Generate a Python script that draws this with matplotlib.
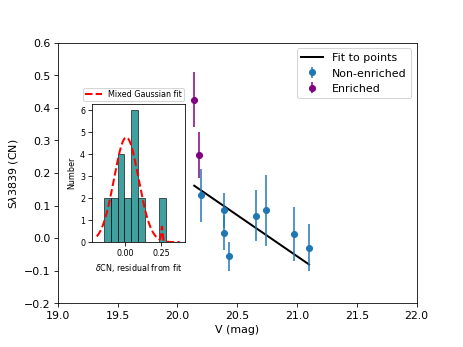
import numpy as np
import matplotlib
matplotlib.use('Agg')
import matplotlib.pyplot as plt

plt.rcParams['font.size'] = 11

# main panel data
v_non = [20.20, 20.39, 20.39, 20.43, 20.66, 20.74, 20.97, 21.10]
cn_non = [0.131, 0.085, 0.017, -0.056, 0.069, 0.085, 0.014, -0.029]
err_non = [0.080, 0.055, 0.055, 0.045, 0.078, 0.110, 0.083, 0.072]

v_enr = [20.14, 20.18]
cn_enr = [0.425, 0.256]
err_enr = [0.085, 0.070]

# linear fit to points
fit_slope = -0.252
fit_intercept = 0.161 + 0.252 * 20.14

# residual histogram
bin_edges = [-0.150, -0.1015, -0.053, -0.0045, 0.044, 0.0925, 0.141, 0.1895, 0.238, 0.2865]
bin_counts = [2, 2, 4, 2, 6, 2, 0, 0, 2]

# mixed gaussian fit parameters (amp, mu, sigma)
gauss_params = [(4.76, 0.008, 0.085), (0.64, 0.255, 0.005)]

fig = plt.figure(figsize=(6.4, 4.8), dpi=72.35)
ax = fig.add_axes([0.125, 0.126, 0.775, 0.750])

all_v = np.array(v_enr + v_non)
xf = np.array([all_v.min(), all_v.max()])
ax.plot(xf, fit_intercept + fit_slope * xf, color='k', lw=2, label='Fit to points')
ax.errorbar(v_non, cn_non, yerr=err_non, fmt='o', color='C0', label='Non-enriched')
ax.errorbar(v_enr, cn_enr, yerr=err_enr, fmt='o', color='purple', label='Enriched')

ax.set_xlim(19.0, 22.0)
ax.set_ylim(-0.2, 0.6)
ax.set_xlabel('V (mag)')
ax.set_ylabel(r'S$\lambda$3839 (CN)')
ax.legend(loc='upper right')

# inset histogram
ins = fig.add_axes([0.199, 0.302, 0.201, 0.399])
edges = np.array(bin_edges)
ins.bar(edges[:-1], bin_counts, width=np.diff(edges), align='edge',
        color='teal', alpha=0.75, edgecolor='k', linewidth=0.8)
xg = np.linspace(-0.197, 0.38, 600)
yg = np.zeros_like(xg)
for amp, mu, sig in gauss_params:
    yg += amp * np.exp(-0.5 * ((xg - mu) / sig) ** 2)
ins.plot(xg, yg, 'r--', lw=2, label='Mixed Gaussian fit')
ins.set_xlim(-0.229, 0.417)
ins.set_ylim(0, 6.3)
ins.set_xticks([0.0, 0.25])
ins.set_yticks(range(7))
ins.tick_params(labelsize=8)
ins.set_ylabel('Number', fontsize=8)
ins.set_xlabel(r'$\delta$CN, residual from fit', fontsize=8)
ins.legend(loc='lower right', bbox_to_anchor=(1.01, 1.0), fontsize=8,
           borderpad=0.25, borderaxespad=0.3)

fig.savefig('out.png', dpi=72.35)
